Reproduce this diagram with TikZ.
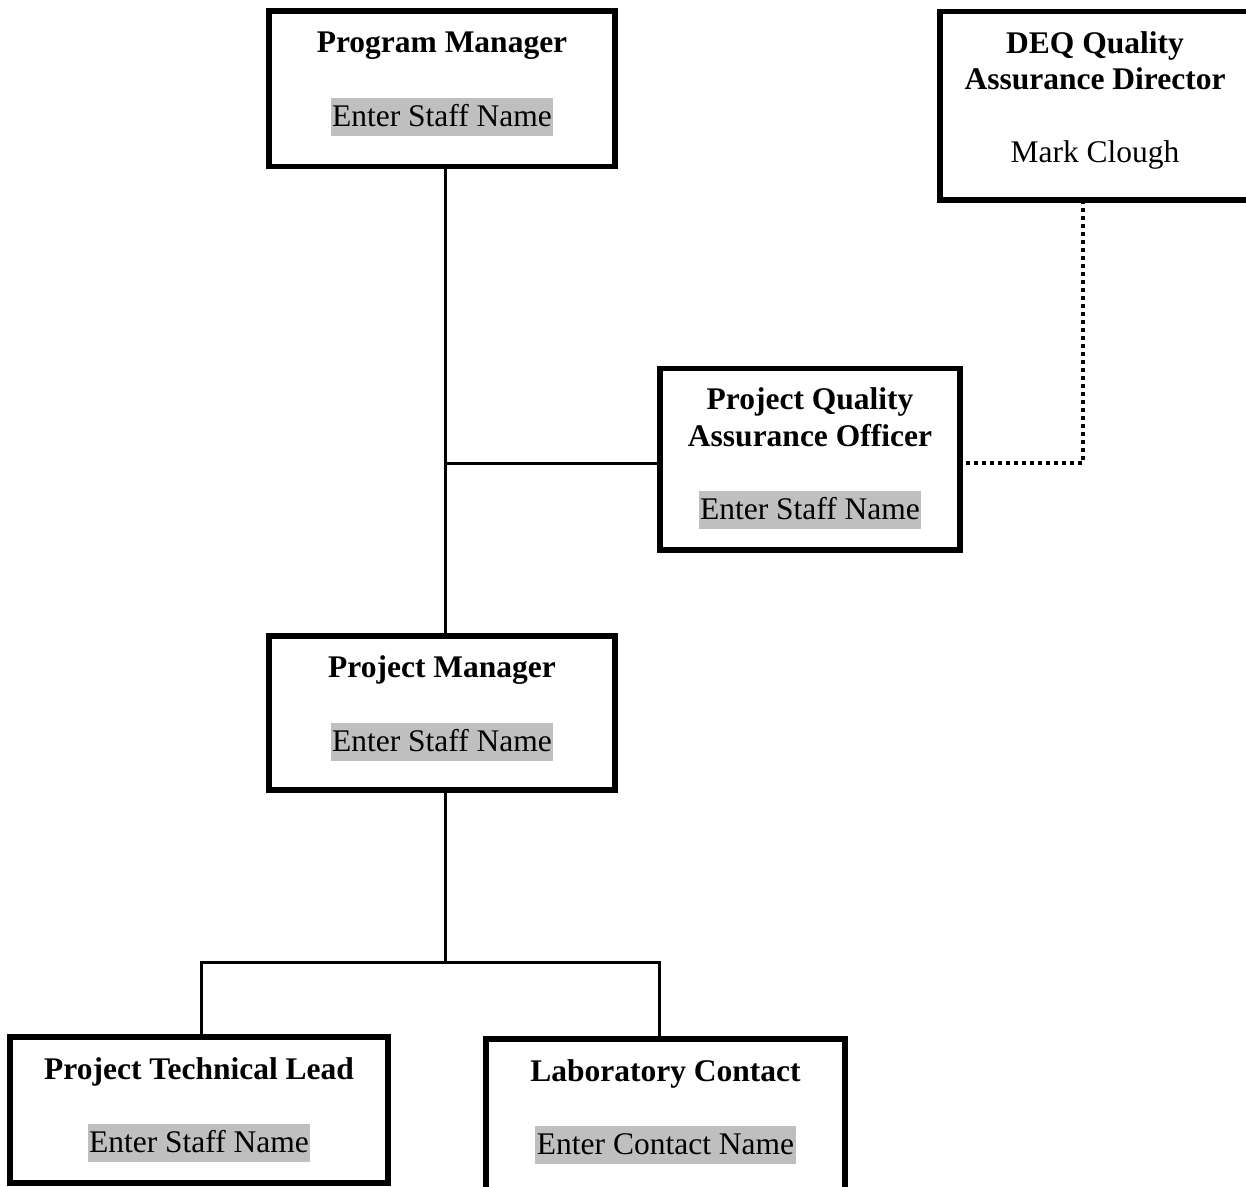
\documentclass[tikz,border=0pt]{standalone}
\usepackage{fontspec}
\setmainfont{Liberation Serif}
\definecolor{hlgray}{HTML}{BFBFBF}
\begin{document}
\begin{tikzpicture}[x=1pt,y=-1pt,
  font=\fontsize{31.5}{38}\selectfont,
  box/.style={draw, line width=5.5pt, rectangle, inner sep=0pt},
  title/.style={anchor=base, font=\fontsize{31.5}{38}\selectfont\bfseries, inner sep=0pt},
  plain/.style={anchor=base, inner sep=0pt},
  hilite/.style={anchor=base, fill=hlgray, inner xsep=1.5pt, inner ysep=0pt,
                 text height=28pt, text depth=10pt},
  link/.style={line width=3.5pt},
  dotlink/.style={line width=4pt, dash pattern=on 4pt off 4pt}]
  % page area
  \fill[white] (0,0) rectangle (1246,1186);
  \useasboundingbox (0,0) rectangle (1246,1186);

  % organisation boxes
  \node[box, minimum width=346pt, minimum height=155.5pt] (pgm)  at (442,88.75) {};
  \node[box, minimum width=310pt, minimum height=188.5pt] (deq)  at (1095,105.75) {};
  \node[box, minimum width=300pt, minimum height=181.5pt] (pqao) at (810,459.25) {};
  \node[box, minimum width=346pt, minimum height=154pt]   (pm)   at (442,713) {};
  \node[box, minimum width=378pt, minimum height=146pt]   (ptl)  at (199,1110) {};
  \node[box, minimum width=359pt, minimum height=156pt]   (lab)  at (665.5,1117) {};

  % box texts
  \node[title]  (pgmT)  at ([yshift=-44.7pt]pgm.north)  {Program Manager};
  \node[hilite] (pgmN)  at ([yshift=-118pt]pgm.north)   {Enter Staff Name};

  \node[title]  (deqT1) at ([yshift=-44.5pt]deq.north)  {DEQ Quality};
  \node[title]  (deqT2) at ([yshift=-81pt]deq.north)    {Assurance Director};
  \node[plain]  (deqN)  at ([yshift=-154pt]deq.north)   {Mark Clough};

  \node[title]  (pqaoT1) at ([yshift=-43.5pt]pqao.north) {Project Quality};
  \node[title]  (pqaoT2) at ([yshift=-80.5pt]pqao.north) {Assurance Officer};
  \node[hilite] (pqaoN)  at ([yshift=-153.5pt]pqao.north) {Enter Staff Name};

  \node[title]  (pmT)  at ([yshift=-44.7pt]pm.north)  {Project Manager};
  \node[hilite] (pmN)  at ([yshift=-118pt]pm.north)   {Enter Staff Name};

  \node[title]  (ptlT) at ([yshift=-45pt]ptl.north)   {Project Technical Lead};
  \node[hilite] (ptlN) at ([yshift=-118pt]ptl.north)  {Enter Staff Name};

  \node[title]  (labT) at ([yshift=-45pt]lab.north)   {Laboratory Contact};
  \node[hilite] (labN) at ([yshift=-118pt]lab.north)  {Enter Contact Name};

  % connector bends
  \coordinate (trunk) at (445.5,463.5);
  \coordinate (split) at (445.5,962.5);
  \coordinate (lt)    at (201.5,962.5);
  \coordinate (rt)    at (659.5,962.5);
  \coordinate (dq)    at (1083,463);

  % reporting lines
  \draw[link] (pgm.south -| trunk) -- (pm.north -| trunk);
  \draw[link] (trunk) -- (trunk -| pqao.west);
  \draw[link] (pm.south -| split) -- (split);
  \draw[link] (ptl.north -| lt) -- (lt) -- (rt) -- (lab.north -| rt);

  % dotted line to the QA director
  \draw[dotlink] ([xshift=3pt]pqao.east |- dq) -- (dq) -- ([yshift=3pt]deq.south -| dq);
\end{tikzpicture}
\end{document}
